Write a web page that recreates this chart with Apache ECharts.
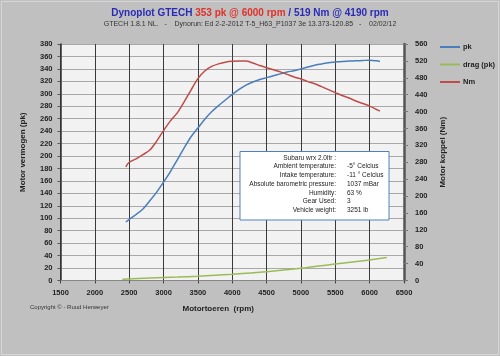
<!DOCTYPE html>
<html>
<head>
<meta charset="utf-8">
<script src="https://cdn.jsdelivr.net/npm/echarts@6/dist/echarts.min.js"></script>
<style>
html,body{margin:0;padding:0;background:#c0c0c0;}
#c{width:500px;height:356px;}
</style>
</head>
<body>
<div id="c"></div>
<script>
// ---- data ----
var rpm = [2450,2500,2600,2700,2800,2900,3000,3100,3200,3300,3400,3500,3600,3700,3800,3900,4000,4100,4200,4300,4400,4500,4600,4700,4800,4900,5000,5100,5200,5300,5400,5500,5600,5700,5800,5900,6000,6100,6150];
var pk  = [94,98,106,115,128,142,158,175,194,213,231,245,259,271,281,290,299,307,314,319,323,326,329,332,335,337,340,343,346,348,350,351,352,352.5,353,353.5,354,353,352];
var nm  = [269,280,288,298,309,330,355,378,397,423,451,478,496,507,513,517,519,519.5,519.5,515,509,504,499,494,488,482,477,471,466,459,452,445,438,432,425,419,413,405,401];
var dragRpm = [2400,2800,3200,3500,4000,4500,5000,5500,6000,6250];
var dragPk  = [2,4,5.5,7,10,14,19.5,26.5,33,37];
var seriesNames = ['pk','drag (pk)','Nm'];
var infoLabels = ['Subaru wrx 2.0ltr :','Ambient temperature:','Intake temperature:','Absolute barometric pressure:','Humidity:','Gear Used:','Vehicle weight:'];
var infoValues = ['','-5° Celcius','-11 ° Celcius','1037 mBar','63 %','3','3251 lb'];

function pairs(xs, ys){ return xs.map(function(x,i){ return [x, ys[i]]; }); }

var FONT = '"Liberation Sans", Arial, sans-serif';
var chart = echarts.init(document.getElementById('c'), null, {renderer:'canvas'});

var infoGraphics = [{
  type:'rect', shape:{x:240, y:151.5, width:149, height:68.5},
  style:{fill:'#ffffff', stroke:'#4f81bd', lineWidth:1}, z:100
}];
infoLabels.forEach(function(t,i){
  infoGraphics.push({type:'text', x:336, y:158+i*8.7, z:101,
    style:{text:t, fill:'#222', font:'6.5px '+FONT, textAlign:'right', textVerticalAlign:'middle'}});
  infoGraphics.push({type:'text', x:347, y:158+i*8.7, z:101,
    style:{text:infoValues[i], fill:'#222', font:'6.5px '+FONT, textAlign:'left', textVerticalAlign:'middle'}});
});

var option = {
  backgroundColor:'#c0c0c0',
  animation:false,
  textStyle:{fontFamily:FONT},
  title:[{
    text:'{b|Dynoplot GTECH }{r|353 pk @ 6000 rpm}{b| / 519 Nm @ 4190 rpm}',
    left:'center', top:3,
    textStyle:{rich:{
      b:{color:'#2a2ab8', fontSize:10, fontWeight:'bold', fontFamily:FONT},
      r:{color:'#e0302a', fontSize:10, fontWeight:'bold', fontFamily:FONT}
    }},
    subtext:'GTECH 1.8.1 NL.   -    Dynorun: Ed 2-2-2012 T-5_H63_P1037 3e 13.373-120.85   -    02/02/12',
    subtextStyle:{color:'#333', fontSize:7, fontFamily:FONT},
    itemGap:3
  }],
  grid:{left:60.5, right:96, top:44, bottom:75.5, show:true, backgroundColor:'#f2f2f2', borderWidth:0},
  legend:{
    orient:'vertical', left:435, top:38, itemWidth:20, itemHeight:2, itemGap:9.5,
    icon:'rect',
    textStyle:{fontSize:7.5, color:'#222', fontWeight:'bold', fontFamily:FONT, padding:[0,0,0,-2]},
    data:seriesNames
  },
  xAxis:{
    type:'value', min:1500, max:6500, interval:500,
    name:'Motortoeren  (rpm)', nameLocation:'middle', nameGap:24,
    nameTextStyle:{fontSize:8, fontWeight:'bold', color:'#222', padding:[0,28,0,0]},
    axisLine:{show:true, onZero:false, lineStyle:{color:'#888', width:1}},
    axisTick:{show:true, length:3, lineStyle:{color:'#444'}},
    axisLabel:{fontSize:7.5, color:'#222', fontWeight:'bold', margin:8, formatter:function(v){return String(v);}},
    splitLine:{show:true, lineStyle:{color:'#3a3a3a', width:1}}
  },
  yAxis:[{
    type:'value', min:0, max:380, interval:20,
    name:'Motor vermogen (pk)', nameLocation:'middle', nameGap:34, nameRotate:90,
    nameTextStyle:{fontSize:8, fontWeight:'bold', color:'#222', padding:[0,0,0,20]},
    axisLine:{show:true, lineStyle:{color:'#333', width:1.5}},
    axisTick:{show:true, length:3, lineStyle:{color:'#555'}},
    axisLabel:{fontSize:7.5, color:'#222', fontWeight:'bold', margin:8},
    splitLine:{show:true, lineStyle:{color:'#a8a8a8', width:1}}
  },{
    type:'value', min:0, max:560, interval:40, position:'right',
    name:'Motor koppel (Nm)', nameLocation:'middle', nameGap:30, nameRotate:90,
    nameTextStyle:{fontSize:8, fontWeight:'bold', color:'#222', padding:[0,0,0,20]},
    axisLine:{show:true, lineStyle:{color:'#555', width:2.5}},
    axisTick:{show:true, length:4, lineStyle:{color:'#777'}},
    axisLabel:{fontSize:7.5, color:'#222', fontWeight:'bold', margin:11},
    splitLine:{show:false}
  }],
  series:[{
    name:seriesNames[0], type:'line', yAxisIndex:0, smooth:0.3, showSymbol:false,
    data:pairs(rpm, pk), itemStyle:{color:'#4a7ebb'}, lineStyle:{color:'#4a7ebb', width:1.5}, z:5
  },{
    name:seriesNames[1], type:'line', yAxisIndex:0, smooth:0.3, showSymbol:false,
    data:pairs(dragRpm, dragPk), itemStyle:{color:'#9bbb59'}, lineStyle:{color:'#9bbb59', width:1.5}, z:5
  },{
    name:seriesNames[2], type:'line', yAxisIndex:1, smooth:0.3, showSymbol:false,
    data:pairs(rpm, nm), itemStyle:{color:'#be4b48'}, lineStyle:{color:'#be4b48', width:1.5}, z:5
  }],
  graphic:[{
    type:'rect', shape:{x:1.5, y:1.5, width:497, height:353}, silent:true,
    style:{fill:'none', stroke:'#d6d6d6', lineWidth:1}, z:-1
  },{
    type:'text', x:30, y:307,
    style:{text:'Copyright © - Ruud Herweyer', fill:'#333', font:'6px '+FONT, textVerticalAlign:'middle'}
  }].concat(infoGraphics)
};
chart.setOption(option);
</script>
</body>
</html>
